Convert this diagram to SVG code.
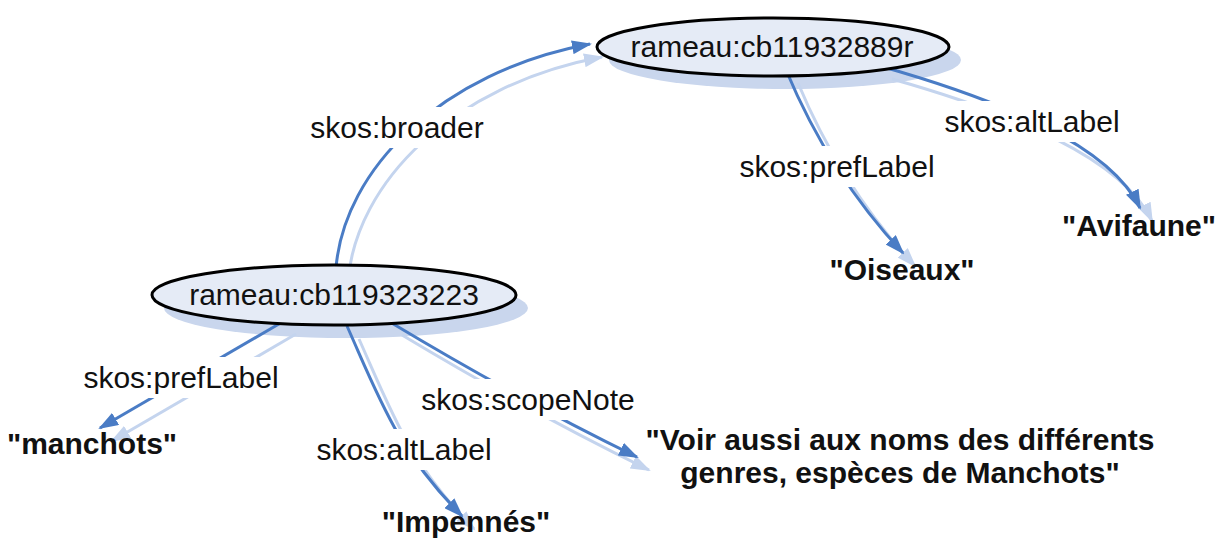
<svg xmlns="http://www.w3.org/2000/svg" width="1223" height="539" viewBox="0 0 1223 539">
  <style>
    .lbl { font-family: "Liberation Sans", Arial, sans-serif; font-size: 30px; fill: #111; text-anchor: middle; }
    .lit { font-family: "Liberation Sans", Arial, sans-serif; font-size: 30px; font-weight: bold; fill: #111; text-anchor: middle; }
    .node { fill: #e5ebf6; stroke: #000; stroke-width: 3; }
    .nshadow { fill: #c9d6ed; }
    .edge { fill: none; stroke: #4a7cc5; stroke-width: 3; marker-end: url(#arr); }
    .eshadow { fill: none; stroke: #c4d4ee; stroke-width: 3; marker-end: url(#arrS); }
    .bg { fill: #fff; }
  </style>
  <defs>
    <marker id="arr" viewBox="0 0 20 14" refX="18" refY="7" markerWidth="20" markerHeight="14" markerUnits="userSpaceOnUse" orient="auto">
      <path d="M0,0 L20,7 L0,14 z" fill="#4a7cc5"/>
    </marker>
    <marker id="arrS" viewBox="0 0 20 14" refX="18" refY="7" markerWidth="20" markerHeight="14" markerUnits="userSpaceOnUse" orient="auto">
      <path d="M0,0 L20,7 L0,14 z" fill="#c4d4ee"/>
    </marker>
  </defs>

  <g id="shadows">
    <ellipse class="nshadow" cx="785" cy="60" rx="176" ry="29"/>
    <ellipse class="nshadow" cx="346" cy="308" rx="182" ry="30"/>
    <g transform="translate(12,13)">
      <path class="eshadow" d="M336,268 C344,170 440,72 590,44"/>
      <path class="eshadow" d="M786,70 Q830,175 903,253"/>
      <path class="eshadow" d="M880,66 C1000,100 1110,145 1140,208"/>
      <path class="eshadow" d="M284,321 L100,428"/>
      <path class="eshadow" d="M347,326 C380,400 397,450 462,516"/>
      <path class="eshadow" d="M390,322 Q520,400 637,457"/>
    </g>
  </g>

  <g id="connectors">
    <path class="edge" d="M336,268 C344,170 440,72 590,44"/>
    <path class="edge" d="M786,70 Q830,175 903,253"/>
    <path class="edge" d="M880,66 C1000,100 1110,145 1140,208"/>
    <path class="edge" d="M284,321 L100,428"/>
    <path class="edge" d="M347,326 C380,400 397,450 462,516"/>
    <path class="edge" d="M390,322 Q520,400 637,457"/>

    <rect class="bg" x="304" y="107" width="186" height="41"/>
    <text class="lbl" x="397" y="138">skos:broader</text>

    <rect class="bg" x="735" y="146" width="204" height="41"/>
    <text class="lbl" x="837" y="177">skos:prefLabel</text>

    <rect class="bg" x="940" y="101" width="184" height="41"/>
    <text class="lbl" x="1032" y="132">skos:altLabel</text>

    <rect class="bg" x="78" y="357" width="206" height="41"/>
    <text class="lbl" x="181" y="388">skos:prefLabel</text>

    <rect class="bg" x="312" y="429" width="184" height="41"/>
    <text class="lbl" x="404" y="460">skos:altLabel</text>

    <rect class="bg" x="418" y="379" width="220" height="41"/>
    <text class="lbl" x="528" y="410">skos:scopeNote</text>
  </g>

  <g id="node-cb11932889r">
    <ellipse class="node" cx="773" cy="47" rx="176" ry="29"/>
    <text class="lbl" x="772" y="57">rameau:cb11932889r</text>
  </g>
  <g id="node-cb119323223">
    <ellipse class="node" cx="334" cy="295" rx="182" ry="30"/>
    <text class="lbl" x="334" y="305">rameau:cb119323223</text>
  </g>
  <g id="lit-oiseaux">
    <text class="lit" x="902" y="280">"Oiseaux"</text>
  </g>
  <g id="lit-avifaune">
    <text class="lit" x="1139" y="236">"Avifaune"</text>
  </g>
  <g id="lit-manchots">
    <text class="lit" x="92" y="454">"manchots"</text>
  </g>
  <g id="lit-impennes">
    <text class="lit" x="466" y="532">"Impennés"</text>
  </g>
  <g id="lit-scopenote">
    <text class="lit" x="900" y="450">"Voir aussi aux noms des différents</text>
    <text class="lit" x="900" y="483">genres, espèces de Manchots"</text>
  </g>
</svg>
